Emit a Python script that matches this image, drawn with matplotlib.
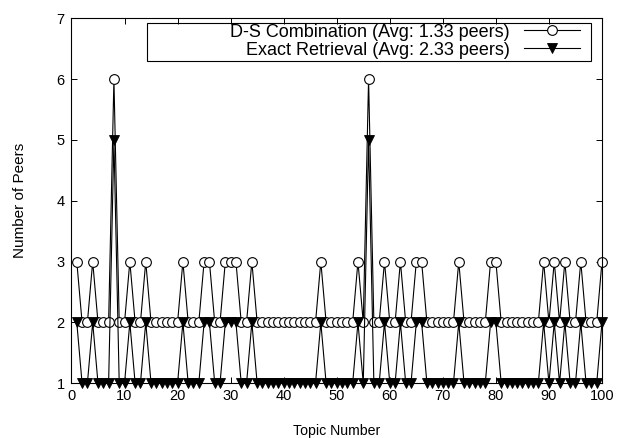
import matplotlib
matplotlib.use("Agg")
import matplotlib.pyplot as plt
from matplotlib.patches import Rectangle

plt.rcParams['font.family'] = ['Liberation Sans', 'DejaVu Sans']

# topic numbers 1..100 and peers needed per topic
topics = list(range(1, 101))
ds_peers = [3, 2, 2, 3, 2, 2, 2, 6, 2, 2,
            3, 2, 2, 3, 2, 2, 2, 2, 2, 2,
            3, 2, 2, 2, 3, 3, 2, 2, 3, 3,
            3, 2, 2, 3, 2, 2, 2, 2, 2, 2,
            2, 2, 2, 2, 2, 2, 3, 2, 2, 2,
            2, 2, 2, 3, 2, 6, 2, 2, 3, 2,
            2, 3, 2, 2, 3, 3, 2, 2, 2, 2,
            2, 2, 3, 2, 2, 2, 2, 2, 3, 3,
            2, 2, 2, 2, 2, 2, 2, 2, 3, 2,
            3, 2, 3, 2, 2, 3, 2, 2, 2, 3]
exact_peers = [2, 1, 1, 2, 1, 1, 1, 5, 1, 1,
               2, 1, 1, 2, 1, 1, 1, 1, 1, 1,
               2, 1, 1, 1, 2, 2, 1, 1, 2, 2,
               2, 1, 1, 2, 1, 1, 1, 1, 1, 1,
               1, 1, 1, 1, 1, 1, 2, 1, 1, 1,
               1, 1, 1, 2, 1, 5, 1, 1, 2, 1,
               1, 2, 1, 1, 2, 2, 1, 1, 1, 1,
               1, 1, 2, 1, 1, 1, 1, 1, 2, 2,
               1, 1, 1, 1, 1, 1, 1, 1, 2, 1,
               2, 1, 2, 1, 1, 2, 1, 1, 1, 2]

ds_label = 'D-S Combination (Avg: 1.33 peers)'
exact_label = 'Exact Retrieval (Avg: 2.33 peers)'

fig = plt.figure(figsize=(6.21, 4.38), dpi=100)
ax = fig.add_axes([0.1151, 0.1249, 0.8543, 0.8333])

ax.plot(topics, ds_peers, color='black', lw=0.8, marker='o', ms=7,
        mfc='white', mec='black', mew=0.8, clip_on=False, label=ds_label)
ax.plot(topics, exact_peers, color='black', lw=0.8, marker='v', ms=6.5,
        mfc='black', mec='black', mew=0.6, clip_on=False, label=exact_label)

ax.set_xlim(0, 100)
ax.set_ylim(1, 7)
ax.set_xticks(range(0, 101, 10))
ax.set_yticks(range(1, 8))
ax.tick_params(direction='in', length=4.5, width=0.7, top=True, right=True,
               labelsize=10.5)
ax.tick_params(axis='x', pad=4)
ax.tick_params(axis='y', pad=5)
for s in ax.spines.values():
    s.set_linewidth(0.8)

ax.set_xlabel('Topic Number', fontsize=10.2, labelpad=15)
ax.set_ylabel('Number of Peers', fontsize=11, labelpad=21)

# legend: text right-aligned next to the sample, box drawn separately
leg = ax.legend(loc='upper right', bbox_to_anchor=(0.9585, 0.985),
                frameon=False, markerfirst=False, fontsize=13,
                handlelength=3.1, handletextpad=0.8, labelspacing=0.05,
                borderpad=0.0, borderaxespad=0)
ax.add_patch(Rectangle((0.1423, 0.883), 0.8367, 0.104, transform=ax.transAxes,
                       fill=False, edgecolor='black', lw=0.8, zorder=5))

fig.savefig('out.png', dpi=100)
